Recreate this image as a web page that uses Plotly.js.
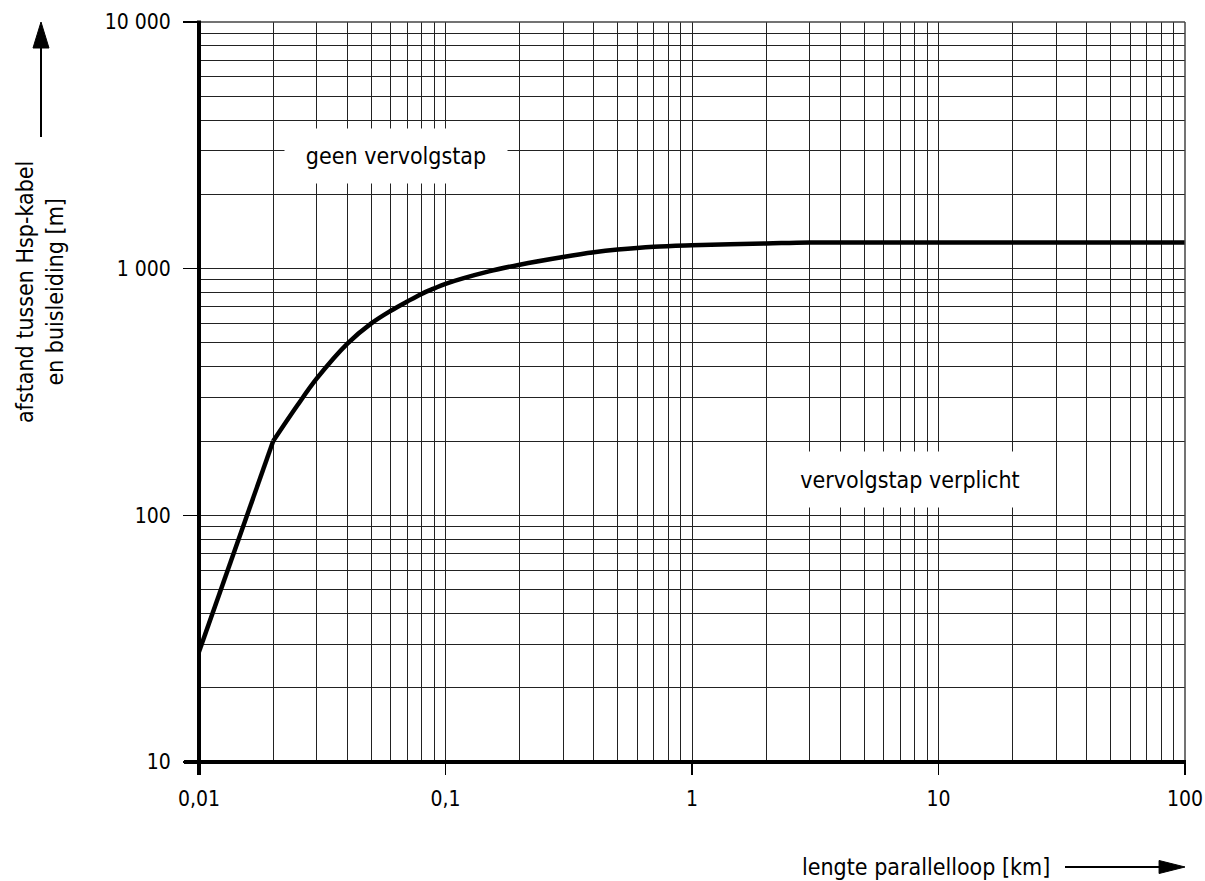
<!DOCTYPE html>
<html>
<head>
<meta charset="utf-8">
<script src="https://cdn.plot.ly/plotly-3.0.1.min.js"></script>
<style>html,body{margin:0;padding:0;background:#fff;}</style>
</head>
<body>
<div id="chart" style="width:1205px;height:881px;"></div>
<script>
// Data
const lengthKm = [0.01, 0.02, 0.025, 0.03, 0.04, 0.05, 0.06, 0.07, 0.08, 0.09, 0.1, 0.15, 0.2, 0.3, 0.4, 0.5, 0.7, 1, 2, 3, 10, 100];
const distanceM = [28, 200, 278, 358, 497, 600, 675, 736, 790, 832, 868, 975, 1038, 1115, 1165, 1195, 1228, 1245, 1265, 1277, 1277, 1277];

const xTickVals = [0.01, 0.1, 1, 10, 100];
const xTickText = ['0,01', '0,1', '1', '10', '100'];
const yTickVals = [10, 100, 1000, 10000];
const yTickText = ['10', '100', '1 000', '10 000'];

const xTitle = 'lengte parallelloop [km]';
const yTitle = 'afstand tussen Hsp-kabel<br>en buisleiding [m]';
const regionUpper = 'geen vervolgstap';
const regionLower = 'vervolgstap verplicht';

// minor grid positions (2..9 in each decade)
function minorVals(fromExp, toExp) {
  const v = [];
  for (let e = fromExp; e < toExp; e++) {
    for (let m = 2; m <= 9; m++) v.push(m * Math.pow(10, e));
  }
  return v;
}

const gridColor = '#222';
const labelFont = {family: 'DejaVu Sans Condensed', size: 23, color: '#000'};
const tickFont = {family: 'DejaVu Sans Condensed', size: 21, color: '#000'};

// straight first segment, smooth curve afterwards
const traceStraight = {
  x: lengthKm.slice(0, 2),
  y: distanceM.slice(0, 2),
  type: 'scatter',
  mode: 'lines',
  line: {color: '#000', width: 4.5},
  hoverinfo: 'skip'
};
const traceCurve = {
  x: lengthKm.slice(1),
  y: distanceM.slice(1),
  type: 'scatter',
  mode: 'lines',
  line: {color: '#000', width: 4.5, shape: 'spline', smoothing: 1},
  hoverinfo: 'skip'
};

const layout = {
  width: 1205,
  height: 881,
  margin: {l: 199, r: 20, t: 22, b: 119, pad: 0},
  paper_bgcolor: '#fff',
  plot_bgcolor: '#fff',
  showlegend: false,
  xaxis: {
    type: 'log',
    range: [-2, 2],
    tickmode: 'array',
    tickvals: xTickVals,
    ticktext: xTickText,
    ticks: 'outside',
    ticklen: 12,
    tickwidth: 1.5,
    tickcolor: '#000',
    tickfont: tickFont,
    ticklabelstandoff: 6,
    showgrid: true,
    gridcolor: gridColor,
    gridwidth: 1,
    zeroline: false,
    showline: false,
    minor: {tickmode: 'array', tickvals: minorVals(-2, 2), showgrid: true, gridcolor: gridColor, gridwidth: 1, ticks: ''}
  },
  yaxis: {
    type: 'log',
    range: [1, 4],
    tickmode: 'array',
    tickvals: yTickVals,
    ticktext: yTickText,
    ticks: 'outside',
    ticklen: 15,
    tickwidth: 1.5,
    tickcolor: '#000',
    tickfont: tickFont,
    ticklabelstandoff: 8,
    showgrid: true,
    gridcolor: gridColor,
    gridwidth: 1,
    zeroline: false,
    showline: false,
    minor: {tickmode: 'array', tickvals: minorVals(1, 4), showgrid: true, gridcolor: gridColor, gridwidth: 1, ticks: ''}
  },
  shapes: [
    // top and right border
    {type: 'line', xref: 'paper', yref: 'paper', x0: 0, x1: 1, y0: 1, y1: 1, line: {color: '#444', width: 1.5}, layer: 'above'},
    {type: 'line', xref: 'paper', yref: 'paper', x0: 1, x1: 1, y0: 0, y1: 1, line: {color: '#444', width: 1.5}, layer: 'above'},
    // thick left and bottom axes, extending past the corner
    {type: 'line', xref: 'paper', yref: 'paper', x0: 0, x1: 0, y0: -0.0176, y1: 1.002, line: {color: '#000', width: 4}, layer: 'above'},
    {type: 'line', xref: 'paper', yref: 'paper', x0: -0.0152, x1: 1.001, y0: 0, y1: 0, line: {color: '#000', width: 4}, layer: 'above'},
    // y axis arrow
    {type: 'line', xref: 'paper', yref: 'paper', x0: -0.16024, x1: -0.16024, y0: 0.8446, y1: 0.966, line: {color: '#000', width: 2}},
    {type: 'path', xref: 'paper', yref: 'paper', path: 'M -0.16836,0.96486 L -0.15213,0.96486 L -0.16024,1.0 Z', fillcolor: '#000', line: {color: '#000', width: 1}},
    // x axis arrow
    {type: 'line', xref: 'paper', yref: 'paper', x0: 0.8783, x1: 0.9757, y0: -0.14189, y1: -0.14189, line: {color: '#000', width: 2}},
    {type: 'path', xref: 'paper', yref: 'paper', path: 'M 0.9737,-0.13311 L 0.9737,-0.15068 L 1.0,-0.14189 Z', fillcolor: '#000', line: {color: '#000', width: 1}}
  ],
  annotations: [
    {text: regionUpper, xref: 'paper', yref: 'paper', x: 0.1998, y: 0.819, xanchor: 'center', yanchor: 'middle',
     showarrow: false, bgcolor: '#fff', width: 222, height: 54, borderpad: 0, font: labelFont},
    {text: regionLower, xref: 'paper', yref: 'paper', x: 0.721, y: 0.3818, xanchor: 'center', yanchor: 'middle',
     showarrow: false, bgcolor: '#fff', width: 280, height: 55, borderpad: 0, font: labelFont},
    {text: xTitle, xref: 'paper', yref: 'paper', x: 0.7373, y: -0.1419, xanchor: 'center', yanchor: 'middle',
     showarrow: false, font: labelFont},
    {text: yTitle, xref: 'paper', yref: 'paper', x: -0.1613, y: 0.635, xanchor: 'center', yanchor: 'middle',
     showarrow: false, textangle: -90, font: labelFont}
  ]
};

Plotly.newPlot('chart', [traceStraight, traceCurve], layout, {displayModeBar: false, staticPlot: true});
</script>
</body>
</html>
